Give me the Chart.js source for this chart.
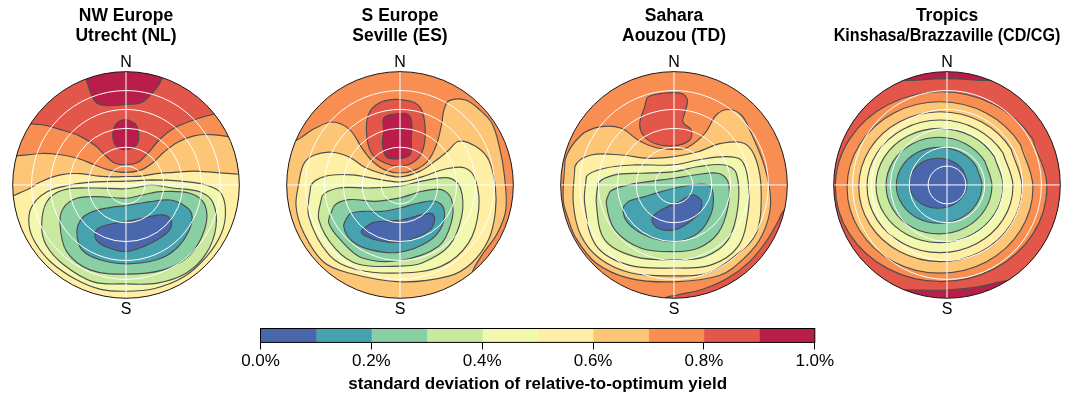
<!DOCTYPE html>
<html>
<head>
<meta charset="utf-8">
<script src="https://cdn.jsdelivr.net/npm/chart.js"></script>
<style>
  html, body { margin: 0; padding: 0; background: #fff; overflow: hidden; width: 1075px; height: 399px; }
  .panel { position: absolute; top: 0; }
  #barBox { position: absolute; left: 238px; top: 320px; }
</style>
</head>
<body>
<div class="panel" style="left:-6px"><canvas id="p1" width="264" height="323"></canvas></div>
<div class="panel" style="left:268px"><canvas id="p2" width="264" height="323"></canvas></div>
<div class="panel" style="left:542px"><canvas id="p3" width="264" height="323"></canvas></div>
<div class="panel" style="left:815px"><canvas id="p4" width="264" height="323"></canvas></div>
<div id="barBox"><canvas id="bar" width="600" height="75"></canvas></div>
<script>
// colour bands of the legend, low to high
const levels = [0, 0.1, 0.2, 0.3, 0.4, 0.5, 0.6, 0.7, 0.8, 0.9, 1.0];
const bandColors = ['#4a67ad', '#47a2b0', '#89cfa4', '#c9e99f', '#f2f8ae',
                    '#feefa4', '#fdc576', '#f98e52', '#e3564a', '#b91e4a'];
const gridTilts = [15, 30, 45, 60, 75];          // tilt circles (degrees)
const horizon = 90;

// contours: x = east, y = north, in degrees of tilt; each list is x,y pairs
const utrechtTitle = ['NW Europe', 'Utrecht (NL)'];
const utrechtBase = 8;
const utrechtBands = [9, 9, 7, 6, 5, 4, 3, 2, 1, 0];
const utrechtContours = [
  [-40,100, -32,85, -28,73, -23,65, -13,63, 0,64, 11,65, 17,69, 25,78, 29,85, 40,100, 0,115],
  [0,52, 7,49, 10,41, 8.5,32, 0,28, -8,31, -10.5,40, -7.5,49],
  [-100,50, -68,48, -52,44, -37,39, -24,31, -16,23, -9,17.5, 0,16, 9.5,18, 18,26, 27,36.5, 38,45, 52,51, 69,56, 100,60, 130,60, 130,-130, -130,-130, -130,50],
  [-100,22, -68,25, -52,24, -38,21, -25,16, -14,12, 0,10, 12,12, 21,17.5, 30,26, 41,34, 54,39, 67.5,40, 100,36, 130,36, 130,-130, -130,-130, -130,22],
  [-100,-12, -79,-4, -68,2.4, -52,8, -36,9, -22,7, -9.5,6.4, 0,6.7, 12,7, 24,9, 38,10, 54,11, 70,10, 100,8, 130,8, 130,-130, -130,-130, -130,-12],
  [0,3, 20,4, 44,3, 63.5,0, 75,-6, 79,-20, 76,-38, 64,-57, 46,-73, 22,-82.5, 0,-84.5, -20,-83, -40,-75, -60,-61, -72,-46, -77,-32, -75,-17.5, -63,-5.6, -44,0, -24,2.4],
  [0,-3, 19,0, 37,-2.4, 59,-5.6, 69,-14, 71.5,-33, 64,-54, 48,-70, 25,-78, 0,-78.6, -26,-77, -50,-63, -63.5,-47.6, -67,-32, -63,-13.5, -50,-4, -26,-2.4],
  [0,-10.6, 13.7,-7.9, 27,-5.3, 50.8,-6.6, 62.7,-15.9, 62.7,-34.4, 50.8,-55.6, 29.6,-67.5, 0,-70.9, -28.6,-67.5, -47.1,-53, -52.4,-31.8, -49.8,-18.5, -39.1,-10.6, -23.3,-9.3],
  [0,-16.4, 19,-13.3, 35,-12, 45.5,-15.9, 52,-22.5, 50.8,-34.4, 40.2,-50.3, 24.4,-59.5, 0,-62.7, -20.6,-59.5, -35,-51.6, -39,-37, -35,-26.5, -26,-21, -12.7,-18],
  [0,-29, 13.7,-26.4, 27,-23.8, 33.6,-25.2, 36.3,-30.4, 33.6,-37.1, 24.4,-43.7, 13.7,-49, 0,-53, -12.7,-50.3, -22,-45.5, -24.6,-39.7, -22,-34.4, -12.7,-31.2]
];

const sevilleTitle = ['S Europe', 'Seville (ES)'];
const sevilleBase = 7;
const sevilleBands = [6, 8, 9, 5, 4, 3, 2, 1, 0];
const sevilleContours = [
  [-100,22, -78,38, -67.5,45, -54,50, -40,44, -30,29, -22,19, -12,12, 0,9.5, 12,12, 22,19, 29,32, 33,48, 35,60, 39,67, 52,67.5, 63,60, 73,49, 79,30, 83,7, 84,-20, 77,-39, 65,-56, 57,-71.5, 60,-100, -100,-100],
  [-4,68, 9,66.5, 17,60, 20,45, 18.5,29, 12,19, 0,15, -12,17.5, -22.5,25, -26.5,40, -25,56, -17,65],
  [-6.6,56, 4,57, 9,52, 9,37, 8,24, 0,21, -10.5,22, -14,32, -13,42.6, -13,53],
  [-82.6,-16.7, -80,4, -76,17.5, -67.5,24, -54,26, -40,22, -28,14, -16,9.5, 0,6.4, 16,11, 28,19, 38,27, 46.6,34.7, 60,30.7, 70.4,20, 75.7,-1, 75.7,-22, 70.4,-43.4, 57,-62, 38.7,-72.5, 0,-77, -40.7,-70, -61,-61, -76.5,-38],
  [-72.5,-25, -71,-1, -59,7, -38,8, -19,4.8, 0,2.4, 17.5,6.4, 36,12.7, 51.6,13.5, 60,4, 62.5,-19.6, 54.5,-46, 33,-64.5, 0,-70, -35.5,-67, -56,-56],
  [-64.5,-27.5, -62,-9, -48.7,-2.4, -25,-2.4, 0,-1, 17.5,3, 38.7,5.6, 48,-2.4, 49,-25, 38.7,-48.7, 17.5,-62, 0,-64.5, -32.8,-63, -51,-51],
  [-56.6,-30, -52.6,-17, -40.7,-11.7, -19.6,-13, 0,-10.3, 17.5,-5, 33,-3.7, 41,-11.7, 40.7,-30, 30.7,-48.7, 0,-60, -30,-58, -46,-45],
  [-44.7,-32.8, -40.7,-23.6, -30,-21, -14.3,-21, 0,-18.3, 14.8,-14.3, 28,-13, 34.7,-18.3, 33.3,-32.8, 22.8,-44.7, 0,-53.4, -22.2,-51.8, -38,-44.7],
  [-30.7,-36.8, -22.2,-30, 0,-28, 17.5,-23.6, 25.4,-22.8, 27.5,-27.5, 24,-35.5, 12,-42, 0,-45.5, -14.3,-44.7, -27,-40.7]
];

const aouzouTitle = ['Sahara', 'Aouzou (TD)'];
const aouzouBase = 7;
const aouzouBands = [8, 8, 6, 5, 4, 3, 2, 1, 0];
const aouzouContours = [
  [-7.9,-90.7, 3,-87.4, 22.3,-83.1, 42.8,-74, 60.5,-60.5, 74.5,-43, 82.2,-29.9, 89,-18.9, 110,-20, 110,-110, -10,-110],
  [-20.6,70, -10,72.8, 5.8,72.8, 10.6,67.5, 8.5,57, 7,50, 13.7,43.7, 12.5,35.7, 0,31, -15.3,33, -24.6,39.7, -27.2,49, -23.3,62],
  [-88,-12, -86.5,20, -73.6,39.7, -57.7,46.3, -41.8,45, -28.6,35.7, -15.3,30, 0,28.3, 11,30, 24.4,41, 33.6,55.6, 43,60, 53.4,55.6, 61.4,41, 72,14.5, 76.8,-14.5, 70,-40, 56,-58, 36,-72, 0,-77, -36,-74, -62,-62, -78,-42, -84,-27],
  [-80,-14.5, -78.8,14.5, -65.7,23.8, -41.8,23.8, -20.6,21.2, 0,22.5, 19,26.4, 37.6,33, 56,33, 65.3,19.8, 69.3,-6.6, 65.3,-38.3, 49,-56, 27,-70, 0,-72.2, -33.9,-70, -59,-58.5, -74,-40],
  [-71,-14.5, -69.6,6.6, -55,13.3, -31.2,15.9, 0,15.9, 19,19.8, 40.3,22.5, 53.4,19.8, 58.8,4, 58.8,-22.5, 50.8,-49, 29.6,-63.5, 0,-66, -36.5,-63.5, -62,-48],
  [-61.7,-14.5, -60.3,1.3, -47,8, -26,9.3, 0,10.6, 19,14.5, 40.3,15.9, 49.5,9.3, 50.8,-17.2, 42.9,-43.7, 24.4,-57, 0,-59.5, -31.2,-57, -55,-43.7],
  [-53.8,-14.5, -51,-5.3, -36.5,0, -20.6,2.6, 0,5.3, 16.4,7.9, 35,9.3, 42.9,2.6, 42.9,-17.2, 35,-38.3, 19,-50.3, 0,-53, -26,-50.3, -47,-35.7],
  [-40.5,-18.5, -36.5,-13.3, -23.3,-9.3, -10,-5.3, 0,-2.6, 13.7,0, 27,0, 31,-6.6, 29.6,-22.5, 19,-38.3, 0,-45, -20.6,-41, -36.5,-30.4],
  [16.4,-8, 21.7,-12, 20.4,-21.2, 11,-30.4, 0,-35.7, -12.7,-34.4, -17.5,-27.8, -14,-22.5, -4.8,-17.2, 4.5,-13.3, 11,-9.3]
];

const kinshasaTitle = ['Tropics', 'Kinshasa/Brazzaville (CD/CG)'];
const kinshasaBase = 9;
const kinshasaBands = [8, 7, 6, 5, 4, 3, 2, 1, 0];
const kinshasaContours = [
  [-130,83, -35,83, 0,84.5, 35,83, 130,83, 130,-70, 48,-76, 25,-81, 0,-83.5, -34,-83.3, -130,-83],
  [79.4,-1.4, 68.1,36.4, 37.4,64, -4.7,74.1, -46.7,64, -77.4,36.4, -88.7,-1.4, -77.4,-39.1, -46.7,-66.7, -4.7,-76.8, 37.4,-66.7, 68.1,-39.1],
  [68.3,-2, 58.4,32, 31.4,57, -5.6,66.1, -42.5,57, -69.5,32, -79.4,-2, -69.5,-36, -42.5,-61, -5.6,-70.1, 31.4,-61, 58.4,-36],
  [59.6,-1.4, 50.9,28.4, 27.2,50.2, -5.3,58.2, -37.7,50.2, -61.4,28.4, -70.1,-1.4, -61.4,-31.1, -37.7,-52.9, -5.3,-60.9, 27.2,-52.9, 50.9,-31.1],
  [52.4,-1.1, 44.6,25.2, 23.4,44.5, -5.6,51.6, -34.5,44.5, -55.8,25.2, -63.5,-1.1, -55.8,-27.4, -34.5,-46.7, -5.6,-53.8, 23.4,-46.7, 44.6,-27.4],
  [44.5,-0.4, 37.7,22.3, 19.3,38.9, -6,45, -31.2,38.9, -49.7,22.3, -56.4,-0.4, -49.7,-23.1, -31.2,-39.7, -6,-45.8, 19.3,-39.7, 37.7,-23.1],
  [35.7,-0.5, 30.1,18.7, 14.7,32.8, -6.4,37.9, -27.4,32.8, -42.8,18.7, -48.4,-0.5, -42.8,-19.7, -27.4,-33.8, -6.4,-38.9, 14.7,-33.8, 30.1,-19.7],
  [27.8,-0.3, 23.2,14.8, 10.8,25.9, -6.3,29.9, -23.3,25.9, -35.7,14.8, -40.3,-0.3, -35.7,-15.3, -23.3,-26.4, -6.3,-30.4, 10.8,-26.4, 23.2,-15.3],
  [15.9,1.4, 12.8,11.3, 4.5,18.6, -7,21.2, -18.5,18.6, -26.8,11.3, -29.9,1.4, -26.8,-8.6, -18.5,-15.9, -7,-18.5, 4.5,-15.9, 12.8,-8.6]
];

// area behind all contours (the base band)
const baseSquare = [-120,-120, 120,-120, 120,120, -120,120];

const barTitle = 'standard deviation of relative-to-optimum yield';

Chart.defaults.font.family = "'Liberation Sans', Arial, Helvetica, sans-serif";
Chart.defaults.color = '#000';

const lineColor = '#4d4d4d';

// close a ring: repeat the first two points so the curve joins smoothly
function ring(flat) {
  const pts = [];
  for (let i = 0; i < flat.length; i += 2) pts.push({x: flat[i], y: flat[i + 1]});
  return pts.concat([pts[0], pts[1]]);
}

const diskPlugin = {
  id: 'disk',
  beforeDatasetsDraw(chart) {
    const {ctx, scales: {x, y}} = chart;
    const cx = x.getPixelForValue(0), cy = y.getPixelForValue(0);
    ctx.save();
    ctx.beginPath();
    ctx.arc(cx, cy, x.getPixelForValue(horizon) - cx, 0, Math.PI * 2);
    ctx.clip();
  },
  afterDatasetsDraw(chart) {
    const {ctx, scales: {x, y}} = chart;
    ctx.restore();
    const cx = x.getPixelForValue(0), cy = y.getPixelForValue(0);
    ctx.save();
    ctx.strokeStyle = '#ffffff';
    ctx.lineWidth = 1;
    gridTilts.forEach(t => {
      ctx.beginPath();
      ctx.arc(cx, cy, x.getPixelForValue(t) - cx, 0, Math.PI * 2);
      ctx.stroke();
    });
    ctx.beginPath();
    ctx.moveTo(x.getPixelForValue(-horizon), cy);
    ctx.lineTo(x.getPixelForValue(horizon), cy);
    ctx.moveTo(cx, y.getPixelForValue(horizon));
    ctx.lineTo(cx, y.getPixelForValue(-horizon));
    ctx.stroke();
    ctx.strokeStyle = '#1a1a1a';
    ctx.beginPath();
    ctx.arc(cx, cy, x.getPixelForValue(horizon) - cx, 0, Math.PI * 2);
    ctx.stroke();
    ctx.restore();
  }
};

function drawPanel(id, title, base, bands, contours) {
  const shapes = [{band: base, flat: baseSquare, base: true}]
    .concat(contours.map((c, i) => ({band: bands[i], flat: c, base: false})));
  const datasets = shapes.map((s, i) => ({
    data: ring(s.flat),
    showLine: true,
    fill: 'shape',
    tension: s.base ? 0 : 0.35,
    backgroundColor: bandColors[s.band],
    borderColor: lineColor,
    borderWidth: s.base ? 0 : 1.15,
    pointRadius: 0,
    order: -i,
    segment: {
      borderColor: c => c.p0DataIndex === 0 ? 'rgba(0,0,0,0)' : undefined
    }
  }));
  return new Chart(document.getElementById(id), {
    type: 'scatter',
    data: {datasets},
    options: {
      responsive: false,
      animation: false,
      events: [],
      elements: {line: {capBezierPoints: false}},
      layout: {padding: {left: 18.7, right: 18.7, top: 0, bottom: 0}},
      scales: {
        x: {
          type: 'linear', min: -horizon, max: horizon,
          grid: {display: false, drawTicks: false},
          border: {display: false},
          ticks: {display: false},
          title: {display: true, text: 'S', font: {size: 16, lineHeight: 1.2}, padding: {top: 1.6, bottom: 4}}
        },
        y: {type: 'linear', min: -horizon, max: horizon, display: false}
      },
      plugins: {
        legend: {display: false},
        tooltip: {enabled: false},
        title: {
          display: true, text: title,
          font: {size: 17.5, weight: 'bold', lineHeight: 20 / 17.5},
          padding: {top: 6.5, bottom: 0}
        },
        subtitle: {
          display: true, text: 'N',
          font: {size: 16, lineHeight: 1.2},
          padding: {top: 6, bottom: 0}
        }
      }
    },
    plugins: [diskPlugin]
  });
}

drawPanel('p1', utrechtTitle, utrechtBase, utrechtBands, utrechtContours);
drawPanel('p2', sevilleTitle, sevilleBase, sevilleBands, sevilleContours);
drawPanel('p3', aouzouTitle, aouzouBase, aouzouBands, aouzouContours);
drawPanel('p4', kinshasaTitle, kinshasaBase, kinshasaBands, kinshasaContours);

// colour bar
const framePlugin = {
  id: 'frame',
  afterDatasetsDraw(chart) {
    const {ctx, chartArea: a} = chart;
    ctx.save();
    ctx.strokeStyle = '#000';
    ctx.lineWidth = 1;
    ctx.strokeRect(a.left, a.top, a.right - a.left, a.bottom - a.top);
    ctx.restore();
  }
};

new Chart(document.getElementById('bar'), {
  type: 'bar',
  data: {
    labels: [''],
    datasets: bandColors.map((c, i) => ({
      data: [levels[i + 1] - levels[i]],
      backgroundColor: c,
      borderWidth: 0,
      barPercentage: 1,
      categoryPercentage: 1
    }))
  },
  options: {
    indexAxis: 'y',
    responsive: false,
    animation: false,
    events: [],
    layout: {padding: {left: 22.5, right: 23.2, top: 8.5, bottom: 0}},
    scales: {
      x: {
        stacked: true, min: 0, max: 1,
        ticks: {stepSize: 0.2, callback: v => v.toFixed(1) + '%', font: {size: 17}, padding: 2, maxRotation: 0, autoSkip: false},
        grid: {drawOnChartArea: false, drawTicks: true, tickLength: 7, color: '#000'},
        border: {display: false}
      },
      y: {stacked: true, display: false}
    },
    plugins: {
      legend: {display: false},
      tooltip: {enabled: false},
      title: {
        display: true, position: 'bottom', text: barTitle,
        font: {size: 17, weight: 'bold', lineHeight: 1.2},
        padding: {top: 0, bottom: 0.8}
      }
    }
  },
  plugins: [framePlugin]
});
</script>
</body>
</html>
